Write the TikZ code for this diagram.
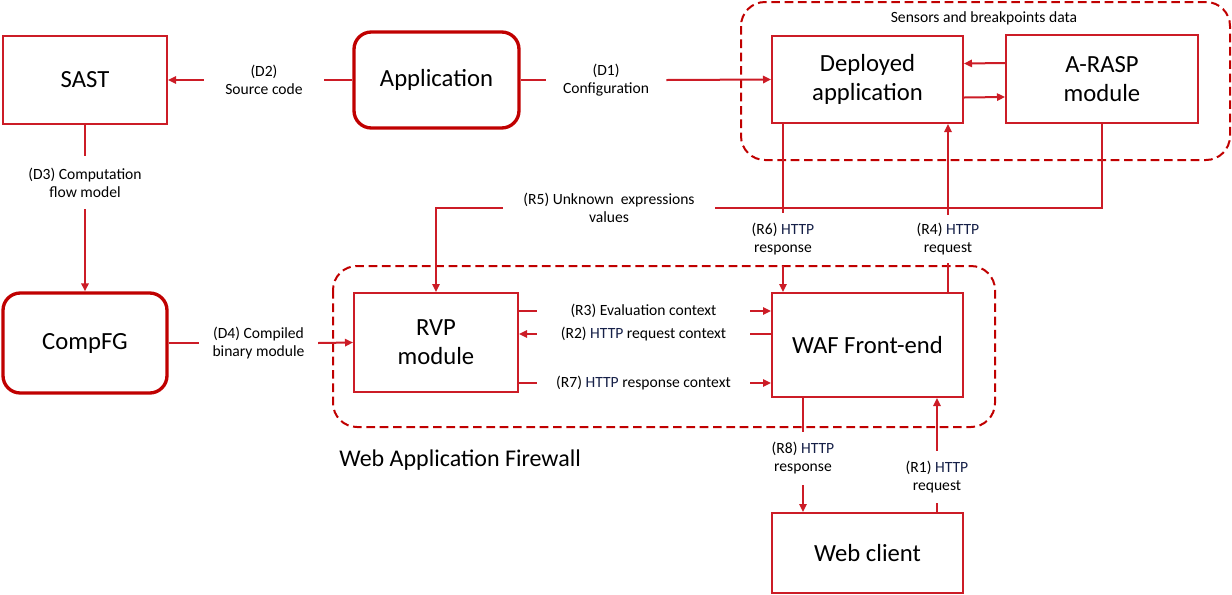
\documentclass[tikz,border=0pt]{standalone}
\usepackage{fontspec}
\setmainfont{Carlito}
\usepackage{xcolor}
\usetikzlibrary{positioning,arrows.meta}
\definecolor{wafred}{RGB}{204,28,38}
\definecolor{deepred}{RGB}{192,0,0}
\definecolor{httpblue}{RGB}{22,32,72}
\newcommand{\http}{\textcolor{httpblue}{HTTP}}

\begin{document}
\begin{tikzpicture}[x=0.75pt, y=-0.75pt,
                    box/.style = {draw=wafred, line width=1.5pt, align=center, inner sep=0pt,
                                  font=\fontsize{18.5}{21.8}\selectfont},
                    roundbox/.style = {box, draw=deepred, line width=2.5pt, rounded corners=13pt},
                    lbl/.style = {align=center, inner sep=0pt, font=\fontsize{11.7}{13.5}\selectfont},
                    hgap/.style = {lbl, minimum width=#1},
                    vgap/.style = {lbl, minimum height=#1},
                    group/.style = {draw=deepred, line width=1.5pt, dash pattern=on 6.5pt off 3.5pt, rounded corners=18pt},
                    ln/.style = {draw=wafred, line width=1.5pt},
                    arr/.style = {ln, -{Triangle[length=6pt,width=5.5pt]}}]
    \useasboundingbox (0,0) rectangle (1232,594);
    \draw[group] (741,2) rectangle (1230,160);
    \draw[group] (333,266) rectangle (995,427);
    \node[lbl] (senstitle) at (984,18) {Sensors and breakpoints data};
    \node[anchor=west, inner sep=0pt, font=\fontsize{18}{21}\selectfont] (waftitle) at (339,460) {Web Application Firewall};

    \node[box, minimum width=123pt, minimum height=66pt] (sast) at (85,80) {SAST};
    \node[roundbox, minimum width=123.75pt, minimum height=72pt] (app) at (436.5,80) {Application};
    \node[box, minimum width=143.25pt, minimum height=65.25pt] (dep) at (867.5,79.5) {Deployed\\application};
    \node[box, minimum width=144pt, minimum height=66pt] (arasp) at (1102,79) {A-RASP\\module};
    \node[roundbox, minimum width=123pt, minimum height=75pt] (cfg) at (85,343) {CompFG};
    \node[box, minimum width=123pt, minimum height=74.25pt] (rvp) at (436,342.5) {RVP\\module};
    \node[box, minimum width=143.25pt, minimum height=78pt] (waf) at (867.5,345) {WAF Front-end};
    \node[box, minimum width=143.25pt, minimum height=60pt] (web) at (867.5,553) {Web client};

    \node[hgap=90pt] (d2) at (264,80) {(D2)\\Source code};
    \node[hgap=90pt] (d1) at (606,80) {(D1)\\Configuration};
    \node[vgap=39.75pt] (d3) at (85,182.5) {(D3) Computation\\flow model};
    \node[hgap=89pt] (d4) at (258.5,343) {(D4) Compiled\\binary module};
    \node[hgap=159pt] (r5) at (609,207.5) {(R5) Unknown~ expressions\\values};
    \node[vgap=39.75pt] (r6) at (783,239.5) {(R6) \http\\response};
    \node[vgap=36pt] (r4) at (948,239) {(R4) \http\\request};
    \node[hgap=160pt] (r3) at (643.5,311) {(R3) Evaluation context};
    \node[hgap=160pt] (r2) at (643.5,334) {(R2) \http{} request context};
    \node[hgap=160pt] (r7) at (643.5,383) {(R7) \http{} response context};
    \node[vgap=39.75pt] (r8) at (803,458.5) {(R8) \http\\response};
    \node[vgap=39pt] (r1) at (937,477) {(R1) \http\\request};

    \draw[ln] (app.west) -- (d2.east);
    \draw[arr] (d2.west) -- (sast.east);
    \draw[ln] (app.east) -- (d1.west);
    \draw[arr] (d1.east) -- (dep.west);
    \draw[ln] (sast.south) -- (d3.north);
    \draw[arr] (d3.south) -- (cfg.north);
    \draw[ln] (cfg.east) -- (d4.west);
    \draw[arr] (d4.east) -- (rvp.west);
    \draw[arr] ([yshift=12pt]arasp.west) -- ([yshift=12pt]dep.east);
    \draw[arr] ([yshift=-13.5pt]dep.east) -- ([yshift=-13.5pt]arasp.west);
    \draw[ln] (arasp.south) |- (r5.east);
    \draw[arr] (r5.west) -| (rvp.north);
    \draw[ln] (r6.north |- dep.south) -- (r6.north);
    \draw[arr] (r6.south) -- (r6.south |- waf.north);
    \draw[ln] (r4.south |- waf.north) -- (r4.south);
    \draw[arr] (r4.north) -- (r4.north |- dep.south);
    \draw[ln] (r3.west -| rvp.east) -- (r3.west);
    \draw[arr] (r3.east) -- (r3.east -| waf.west);
    \draw[ln] (r2.east -| waf.west) -- (r2.east);
    \draw[arr] (r2.west) -- (r2.west -| rvp.east);
    \draw[ln] (r7.west -| rvp.east) -- (r7.west);
    \draw[arr] (r7.east) -- (r7.east -| waf.west);
    \draw[ln] (r8.north |- waf.south) -- (r8.north);
    \draw[arr] (r8.south) -- (r8.south |- web.north);
    \draw[ln] (r1.south |- web.north) -- (r1.south);
    \draw[arr] (r1.north) -- (r1.north |- waf.south);
\end{tikzpicture}
\end{document}
